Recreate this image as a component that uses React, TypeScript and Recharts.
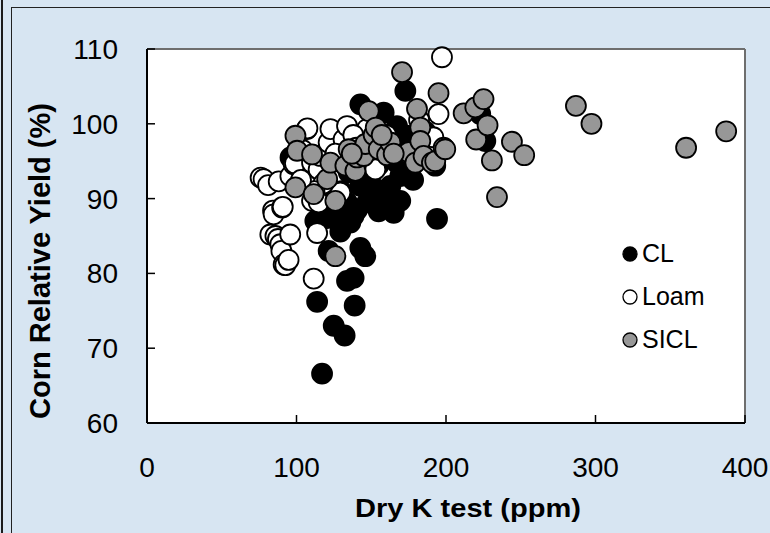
import { ScatterChart, Scatter, XAxis, YAxis, CartesianGrid, ReferenceLine, Legend } from "recharts";

// [dry K test (ppm), corn relative yield (%)]
const clPoints: [number, number][] = [
  [96, 95.5], [112.6, 87], [113.8, 87.2], [113.8, 76.2], [117.1, 66.6], [120.4, 87.4], [121.5, 83],
  [121.5, 87.7], [124.9, 73], [128, 87.4], [129.3, 85.6], [132.2, 71.7], [133.8, 79], [133.8, 89.5],
  [136, 86.8], [138.2, 79.4], [138.2, 87.7], [138.9, 75.7], [140.5, 88.5], [142.7, 83.4], [142.7, 91.7],
  [142.7, 102.6], [146, 82.3], [147.3, 89.5], [149.4, 93], [153.9, 91.2], [154.9, 88.3], [158.3, 89.5],
  [158.3, 101.5], [160, 96], [162.8, 91.7], [165, 88.1], [167.2, 94.8], [167.2, 99.7], [169.4, 89.7],
  [169.4, 93], [172.8, 104.4], [173.9, 93.9], [173.9, 98.4], [176, 97], [180, 95.5], [185, 97],
  [189.5, 95.7], [192.8, 94.4], [194, 87.3], [222.9, 101.3], [226.3, 97.7], [150, 90.5], [145, 95],
  [155, 94.5], [178, 92.5], [186, 99], [130, 91], [135, 93.5], [124, 90],
];

const loamPoints: [number, number][] = [
  [76, 92.8], [78, 92.6], [81, 91.8], [82.5, 85.2], [84.3, 88.4], [84.7, 87.9], [85.9, 85], [87.6, 84.6],
  [88.1, 92.3], [89.2, 83.9], [89.9, 83], [90.4, 88.8], [90.8, 88.9], [91.4, 81.2], [92.5, 81.1],
  [94.7, 81.8], [95.8, 85.2], [95.9, 93], [98.1, 94.6], [99, 94.7], [107, 99.3], [107.3, 99.4],
  [109.3, 92.6], [110.4, 94.8], [110.4, 89.7], [111.5, 79.3], [113.8, 85.4], [114.8, 93.9], [114.8, 89.5],
  [116, 95.7], [121.5, 97.5], [122.7, 99.3], [129.3, 90.8], [131.5, 97.9], [133.8, 99.7], [133.8, 95.7],
  [147.2, 99.3], [149.4, 94.8], [152.7, 93.9], [173.9, 96.1], [189.5, 97], [191.5, 98.2], [195, 101.3],
  [197.3, 108.9], [104, 96.5], [118, 92], [126, 96], [138, 98.5], [112, 91], [103, 92.5], [140, 96.8],
  [160, 98.5], [182, 100.5],
];

const siclPoints: [number, number][] = [
  [99.3, 98.4], [100.4, 96.4], [99.3, 91.5], [110.4, 95.9], [111.5, 90.6], [120.5, 92.6], [122.7, 94.8],
  [126, 89.7], [126, 82.3], [132.7, 94.4], [134.9, 96.6], [139.4, 93.7], [140.5, 95.5], [145, 95.7],
  [146, 97.3], [148.3, 101.7], [151.6, 98.5], [155, 96.6], [160.6, 95.8], [162.8, 97.5], [170.6, 106.9],
  [175, 96.2], [179.5, 94.8], [180.6, 102], [182.8, 99.5], [182.8, 97.7], [185, 95.7], [190.6, 94.8],
  [192.8, 95], [195, 104.1], [198.4, 96.8], [199.5, 96.6], [211.8, 101.4], [219.6, 102.2], [220.2, 97.9],
  [225.1, 103.3], [227.8, 99.8], [230.7, 95.1], [234.1, 90.2], [244.1, 97.6], [252.3, 95.8],
  [286.9, 102.4], [297.3, 100], [360.6, 96.8], [387.4, 99], [153, 99.5], [157, 98.5], [165, 96], [137, 96],
];

const xTicks = [0, 100, 200, 300, 400];
const yTicks = [60, 70, 80, 90, 100, 110];

const series = [
  { name: "CL", points: clPoints, fill: "#000000" },
  { name: "Loam", points: loamPoints, fill: "#ffffff" },
  { name: "SICL", points: siclPoints, fill: "#979797" },
];

const FONT = "'Liberation Sans', Arial, sans-serif";

const toRows = (pts: [number, number][]) => pts.map(([k, y]) => ({ k, y }));

const Dot = (fill: string) => (props: any) => (
  <circle cx={props.cx} cy={props.cy} r={10} fill={fill} stroke="#000" strokeWidth={1.8} />
);

const LegendBox = () => (
  <div style={{ fontFamily: FONT, fontSize: 25, color: "#000" }}>
    {series.map((s) => (
      <div key={s.name} style={{ display: "flex", alignItems: "center", height: 43, lineHeight: "43px" }}>
        <svg width={16} height={16} style={{ marginRight: 4 }}>
          <circle cx={8} cy={8} r={7} fill={s.fill} stroke="#000" strokeWidth={1.3} />
        </svg>
        <span>{s.name}</span>
      </div>
    ))}
  </div>
);

export default function App() {
  return (
    <div
      style={{
        position: "fixed",
        left: 0,
        top: 0,
        width: 770,
        height: 533,
        overflow: "hidden",
        background: "#d7e5f2",
      }}
    >
      <div style={{ position: "absolute", left: 1, top: 0, width: 2, height: 533, background: "#1a1a1a" }} />
      <div
        style={{
          position: "absolute",
          left: 11,
          top: 7,
          width: 800,
          height: 600,
          borderLeft: "1.5px solid #222",
          borderTop: "1.5px solid #222",
        }}
      />
      <div style={{ position: "absolute", left: 0, top: 0 }}>
        <ScatterChart width={770} height={533} margin={{ top: 49, right: 25, bottom: 80, left: 0 }}>
          <CartesianGrid horizontal={false} vertical={false} fill="#ffffff" />
          <XAxis
            type="number"
            dataKey="k"
            domain={[0, 400]}
            ticks={xTicks}
            tickSize={-8}
            tickMargin={42}
            axisLine={{ stroke: "#000", strokeWidth: 2 }}
            tickLine={{ stroke: "#000", strokeWidth: 1.5 }}
            tick={{ fill: "#000", fontSize: 28, fontFamily: FONT }}
            height={30}
            label={(p: any) => {
              const vb = p.viewBox;
              return (
                <text
                  x={vb.x + vb.width / 2 + 22}
                  y={vb.y + 94}
                  textAnchor="middle"
                  fontFamily={FONT}
                  fontWeight={700}
                  fontSize={25}
                  fill="#000"
                  textLength={226}
                  lengthAdjust="spacingAndGlyphs"
                >
                  Dry K test (ppm)
                </text>
              );
            }}
          />
          <YAxis
            type="number"
            dataKey="y"
            domain={[60, 110]}
            ticks={yTicks}
            width={147}
            tickSize={-8}
            tickMargin={37}
            axisLine={{ stroke: "#000", strokeWidth: 2 }}
            tickLine={{ stroke: "#000", strokeWidth: 1.5 }}
            tick={{ fill: "#000", fontSize: 28, fontFamily: FONT }}
            label={(p: any) => {
              const vb = p.viewBox;
              const cx = 50;
              const cy = vb.y + vb.height / 2 + 25;
              return (
                <text
                  x={cx}
                  y={cy}
                  transform={`rotate(-90, ${cx}, ${cy})`}
                  textAnchor="middle"
                  fontFamily={FONT}
                  fontWeight={700}
                  fontSize={29}
                  fill="#000"
                >
                  Corn Relative Yield (%)
                </text>
              );
            }}
          />
          <ReferenceLine y={110} stroke="#6e6e6e" strokeWidth={2} />
          <ReferenceLine x={400} stroke="#6e6e6e" strokeWidth={2} />
          {series.map((s) => (
            <Scatter
              key={s.name}
              name={s.name}
              data={toRows(s.points)}
              shape={Dot(s.fill)}
              isAnimationActive={false}
            />
          ))}
          <Legend
            layout="horizontal"
            align="center"
            verticalAlign="middle"
            content={() => <LegendBox />}
            wrapperStyle={{ left: 622, top: 232, width: 120, height: 130 }}
          />
        </ScatterChart>
      </div>
    </div>
  );
}
